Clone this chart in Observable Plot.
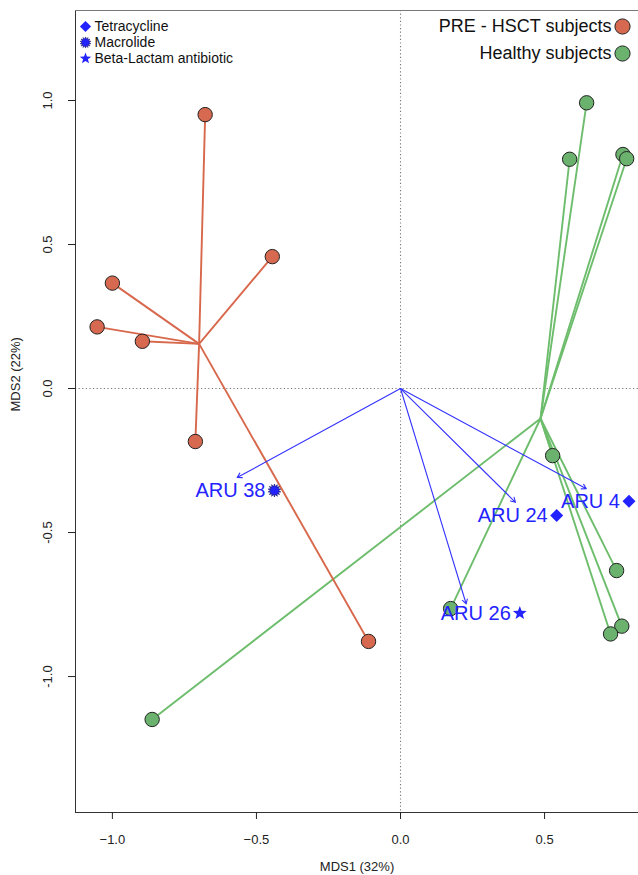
<!DOCTYPE html>
<html><head><meta charset="utf-8">
<script src="https://cdn.jsdelivr.net/npm/d3@7"></script>
<script src="https://cdn.jsdelivr.net/npm/@observablehq/plot@0.6"></script>
<style>body{margin:0;background:#fff;} #chart svg{display:block}</style>
</head><body><div id="chart"></div>
<script>
// ---- data ----
const groupNames = ["PRE - HSCT subjects", "Healthy subjects"];
const preCentroid = [-0.699, 0.155];
const healthyCentroid = [0.486, -0.104];
const preX = [-0.678, -0.445, -1.000, -1.053, -0.896, -0.712, -0.111];
const preY = [0.951, 0.458, 0.366, 0.214, 0.164, -0.184, -0.878];
const healthyX = [0.646, 0.587, 0.772, 0.785, 0.528, 0.750, 0.768, 0.729, 0.174, -0.862];
const healthyY = [0.992, 0.796, 0.8125, 0.798, -0.233, -0.632, -0.825, -0.852, -0.764, -1.149];
const aruNames = ["ARU 38", "ARU 24", "ARU 4", "ARU 26"];
const aruClass = ["Macrolide", "Tetracycline", "Tetracycline", "Beta-Lactam antibiotic"];
const aruArrowX = [-0.567, 0.399, 0.645, 0.228];
const aruArrowY = [-0.309, -0.395, -0.348, -0.748];
const aruLabelX = [-0.4375, 0.542, 0.793, 0.414];
const aruLabelY = [-0.354, -0.441, -0.391, -0.780];
const classNames = ["Tetracycline", "Macrolide", "Beta-Lactam antibiotic"];
const xTicks = [-1, -0.5, 0, 0.5];
const yTicks = [-1, -0.5, 0, 0.5, 1];
const xTitle = "MDS1 (32%)";
const yTitle = "MDS2 (22%)";

// ---- style ----
const FONT = "'Liberation Sans', Arial, Helvetica, sans-serif";
const RED = "#d6694f", GREEN = "#6bb26e";
const RED_LINE = "#d8684c", GREEN_LINE = "#6dbd6d";
const BLUE = "#2323ff", BLUE_LINE = "#3333ff";
const xDomain = [-1.128, 0.826];
const yDomain = [-1.472, 1.3125];

// custom symbols (size = pi r^2 => r is outer radius)
const symDiamond = {draw(c, s) {const r = Math.sqrt(s / Math.PI); c.moveTo(0, -r); c.lineTo(r, 0); c.lineTo(0, r); c.lineTo(-r, 0); c.closePath();}};
const symBurst = {draw(c, s) {const r = Math.sqrt(s / Math.PI); const n = 14; for (let i = 0; i < 2 * n; i++) {const a = i * Math.PI / n - Math.PI / 2; const rr = i % 2 ? r * 0.62 : r; const x = rr * Math.cos(a), y = rr * Math.sin(a); i ? c.lineTo(x, y) : c.moveTo(x, y);} c.closePath();}};
const symStar = {draw(c, s) {const r = Math.sqrt(s / Math.PI); for (let i = 0; i < 10; i++) {const a = i * Math.PI / 5 - Math.PI / 2; const rr = i % 2 ? r * 0.42 : r; const x = rr * Math.cos(a), y = rr * Math.sin(a); i ? c.lineTo(x, y) : c.moveTo(x, y);} c.closePath();}};
const classSymbol = {"Tetracycline": symDiamond, "Macrolide": symBurst, "Beta-Lactam antibiotic": symStar};
const classR = {"Tetracycline": 6.5, "Macrolide": 6.5, "Beta-Lactam antibiotic": 7.3};

// ---- tables ----
const pre = preX.map((x, i) => ({x, y: preY[i], cx: preCentroid[0], cy: preCentroid[1]}));
const healthy = healthyX.map((x, i) => ({x, y: healthyY[i], cx: healthyCentroid[0], cy: healthyCentroid[1]}));
const aru = aruNames.map((name, i) => ({name, cls: aruClass[i], ax: aruArrowX[i], ay: aruArrowY[i], lx: aruLabelX[i], ly: aruLabelY[i]}));

const marks = [
  Plot.ruleX([0], {stroke: "#777", strokeDasharray: "1.2,2.4", strokeWidth: 1.1}),
  Plot.ruleY([0], {stroke: "#777", strokeDasharray: "1.2,2.4", strokeWidth: 1.1}),
  Plot.ruleX([xDomain[0]], {stroke: "#333"}),
  Plot.ruleY([yDomain[0]], {stroke: "#333"}),
  Plot.ruleY([yDomain[1]], {stroke: "#777"}),
  Plot.axisX({ticks: xTicks, tickSize: 7, tickPadding: 15, tickFormat: d3.format(".1f"), label: null, fontSize: 13}),
  Plot.axisY({ticks: yTicks, tickSize: 7, tickRotate: -90, tickPadding: 17, tickFormat: d => d.toFixed(1), label: null, fontSize: 13}),
  Plot.text([xTitle], {frameAnchor: "bottom", dy: 54, lineAnchor: "middle", text: d => d, fontSize: 13, fill: "#222"}),
  Plot.text([yTitle], {frameAnchor: "left", dx: -60, rotate: -90, lineAnchor: "middle", text: d => d, fontSize: 13, fill: "#222"}),
  // spider lines
  Plot.link(healthy, {x1: "cx", y1: "cy", x2: "x", y2: "y", stroke: GREEN_LINE, strokeWidth: 1.9}),
  Plot.link(pre, {x1: "cx", y1: "cy", x2: "x", y2: "y", stroke: RED_LINE, strokeWidth: 1.9}),
  Plot.dot(healthy, {x: "x", y: "y", r: 7.2, fill: GREEN, stroke: "#222", strokeWidth: 1}),
  Plot.dot(pre, {x: "x", y: "y", r: 7.2, fill: RED, stroke: "#222", strokeWidth: 1}),
  // ARU arrows
  Plot.arrow(aru, {x1: () => 0, y1: () => 0, x2: "ax", y2: "ay", stroke: BLUE_LINE, strokeWidth: 1.1, headLength: 7, headAngle: 60}),
  Plot.text(aru, {x: "lx", y: "ly", text: "name", textAnchor: "end", dx: -9, fontSize: 20, fill: BLUE})
];
for (const cls of classNames) {
  marks.push(Plot.dot(aru.filter(d => d.cls === cls), {x: "lx", y: "ly", symbol: classSymbol[cls], r: classR[cls], fill: BLUE, stroke: cls === "Macrolide" ? "#101060" : "none", strokeWidth: 0.6}));
}
// top-left legend
classNames.forEach((cls, i) => {
  marks.push(Plot.dot([cls], {frameAnchor: "top-left", dx: 10, dy: 16 + 16 * i, symbol: classSymbol[cls], r: cls === "Beta-Lactam antibiotic" ? 6 : 5.6, fill: BLUE, stroke: cls === "Macrolide" ? "#101060" : "none", strokeWidth: 0.5}));
  marks.push(Plot.text([cls], {frameAnchor: "top-left", dx: 19, dy: 16 + 16 * i, lineAnchor: "middle", text: d => d, textAnchor: "start", fontSize: 14, fill: "#111"}));
});
// top-right legend
groupNames.forEach((g, i) => {
  marks.push(Plot.dot([g], {frameAnchor: "top-right", dx: -16, dy: 16 + 27 * i, r: 7.6, fill: i === 0 ? RED : GREEN, stroke: "#222", strokeWidth: 1}));
  marks.push(Plot.text([g], {frameAnchor: "top-right", dx: -27, dy: 16 + 27 * i, lineAnchor: "middle", text: d => d, textAnchor: "end", fontSize: 18, fill: "#111"}));
});

const plot = Plot.plot({
  width: 638, height: 875,
  marginLeft: 75, marginTop: 10, marginBottom: 63, marginRight: 0,
  x: {domain: xDomain},
  y: {domain: yDomain},
  style: {fontFamily: FONT, fontSize: "13px", color: "#222", background: "#fff"},
  marks
});
document.getElementById("chart").append(plot);
</script>
</body></html>
